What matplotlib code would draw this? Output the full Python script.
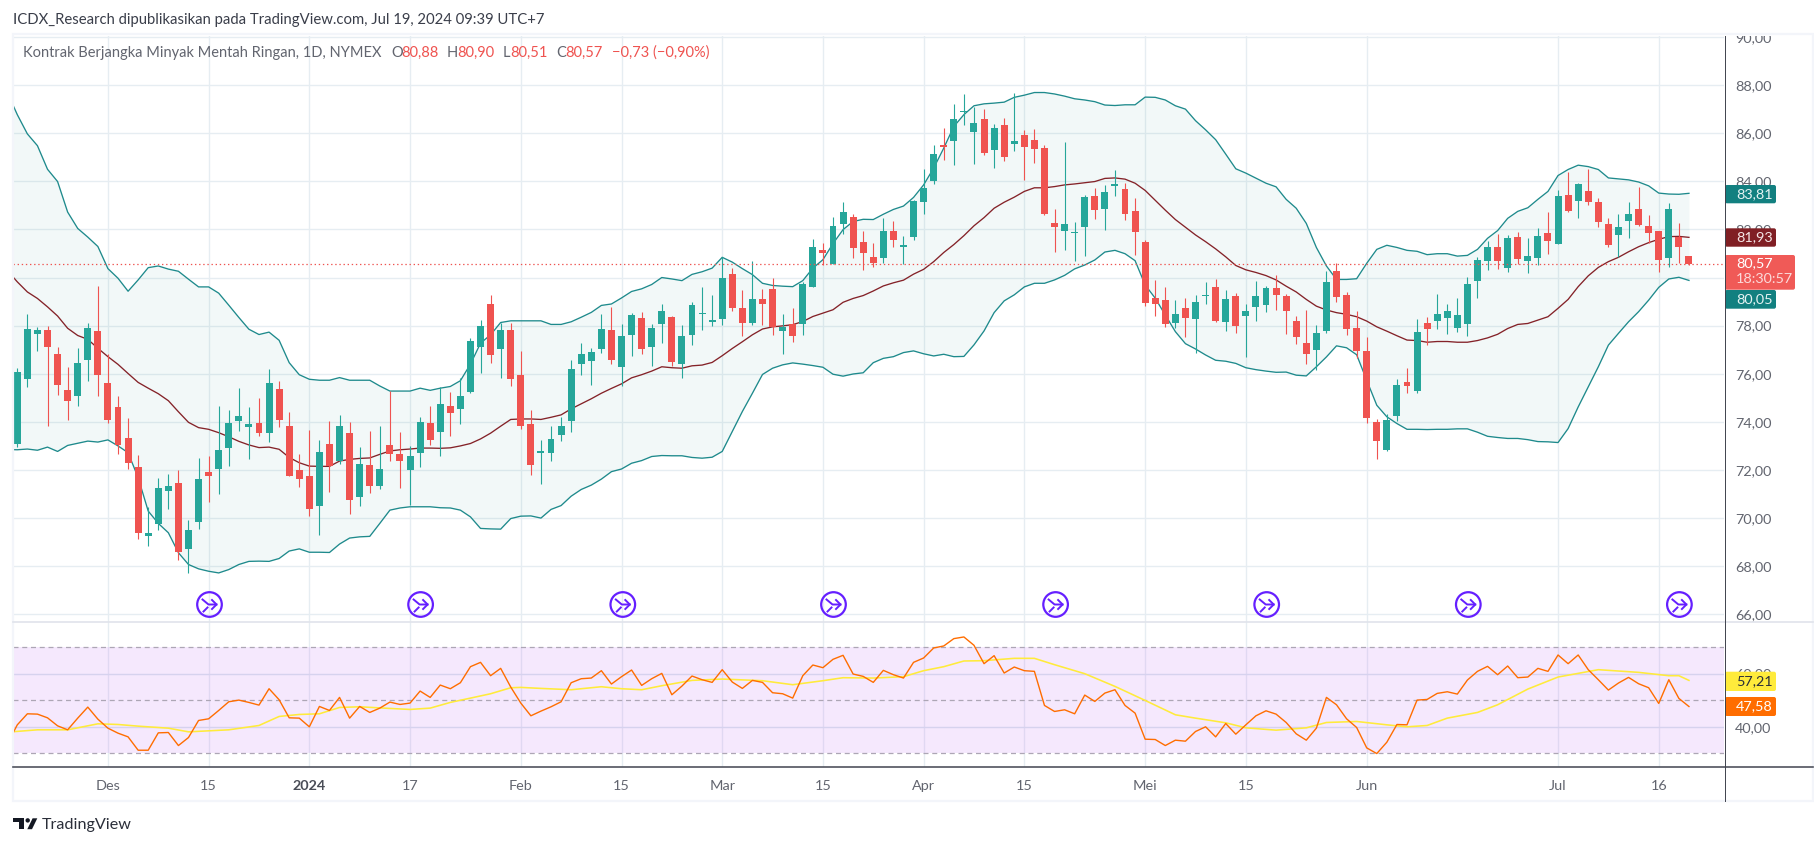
#!/usr/bin/env python3
import matplotlib
matplotlib.use("Agg")
import matplotlib.pyplot as plt
from matplotlib.patches import Circle, FancyBboxPatch, Polygon, Rectangle
from matplotlib.transforms import Bbox

W, H = 1814, 846
plt.rcParams['font.family'] = ['Lato', 'DejaVu Sans']

opens = [73.08,75.78,77.66,77.81,76.81,75.31,75.08,76.57,77.77,75.60,
         74.60,73.31,72.11,69.25,69.75,71.12,71.44,68.71,69.83,71.90,
         72.04,72.91,74.04,73.79,73.94,73.54,75.35,73.81,71.98,71.73,
         70.50,73.07,72.36,73.52,70.87,72.19,71.33,73.02,72.65,72.00,
         72.70,73.94,73.56,74.67,74.55,75.26,77.13,78.91,77.01,77.83,
         75.96,73.92,72.72,72.72,73.47,74.05,76.39,76.55,77.01,77.83,
         76.30,77.59,78.33,77.13,78.05,78.37,76.39,77.59,78.47,78.17,
         78.26,80.16,78.74,78.13,79.12,79.53,77.76,78.08,78.05,79.59,
         81.16,80.55,82.21,82.53,81.48,80.86,80.83,81.94,81.25,81.70,
         83.12,84.03,85.48,85.66,86.87,86.07,86.60,85.32,86.35,85.57,
         85.93,85.73,85.39,82.27,81.95,81.85,82.12,83.40,82.83,83.82,
         83.69,82.77,81.48,79.15,79.07,78.12,78.73,78.29,79.24,79.61,
         78.17,79.23,78.40,78.79,78.87,79.57,79.23,78.19,77.27,77.00,
         77.77,80.27,79.27,77.90,76.94,73.99,72.83,74.25,75.65,75.29,
         78.11,78.20,78.33,77.91,78.08,79.87,80.70,81.27,80.41,81.68,
         80.70,80.82,81.85,81.41,83.43,83.20,83.60,83.14,82.22,81.78,
         82.36,82.85,82.14,81.93,80.82,81.70,80.88]
highs = [76.23,78.47,77.93,77.97,77.10,76.27,77.06,78.10,79.64,76.81,
         75.06,74.15,72.61,70.47,71.65,71.82,71.98,69.90,72.48,72.57,
         74.65,74.48,75.40,74.60,74.98,76.19,75.69,74.40,72.65,73.65,
         73.23,74.02,74.27,73.98,72.94,73.61,73.81,75.27,73.56,72.98,
         74.19,74.65,75.44,75.25,75.83,77.50,78.24,79.28,78.12,78.12,
         76.95,74.50,73.25,73.83,74.21,76.58,77.29,77.08,78.49,78.78,
         78.08,78.54,78.58,78.08,78.91,78.41,78.04,78.99,79.62,79.28,
         80.84,80.41,79.49,80.70,79.53,79.99,78.49,78.74,79.83,81.61,
         81.45,82.53,83.15,82.65,81.94,81.44,82.48,82.35,81.73,83.22,
         84.52,85.52,86.22,87.22,87.64,87.10,87.02,86.39,86.64,87.68,
         86.14,86.18,85.52,82.85,85.64,82.31,83.44,83.73,83.85,84.48,
         83.94,83.31,81.56,79.90,79.61,79.07,79.15,79.28,79.82,79.94,
         79.48,79.36,78.90,79.86,79.65,80.11,79.31,78.40,78.65,78.02,
         80.27,80.60,79.40,78.60,77.52,74.11,74.32,75.78,76.23,78.27,
         78.35,79.31,78.90,79.15,80.02,80.85,81.52,81.81,81.77,81.89,
         81.64,82.06,82.72,83.64,84.39,83.93,84.51,83.31,82.47,82.64,
         83.14,83.76,82.60,81.95,83.10,82.27,80.90]
lows = [72.95,75.45,76.95,73.83,75.12,74.08,74.66,75.70,75.08,73.95,
        72.66,72.04,69.13,68.83,69.50,70.37,68.25,67.71,69.54,70.67,
        71.00,72.16,73.62,72.45,73.41,73.16,73.79,71.75,71.29,70.08,
        69.29,71.08,72.25,70.17,70.50,71.04,71.21,72.37,71.25,70.54,
        72.12,73.04,72.56,73.43,73.93,75.18,76.05,76.43,75.84,75.51,
        73.72,71.81,71.40,72.39,73.22,73.56,75.93,75.55,76.88,76.39,
        75.51,76.72,76.80,76.34,77.26,76.34,75.84,77.18,77.80,77.97,
        78.04,78.59,77.55,78.01,78.04,77.59,76.80,77.34,77.59,79.59,
        80.50,80.55,81.82,80.82,80.33,80.45,80.62,81.25,80.55,81.54,
        82.62,83.87,84.87,84.66,86.35,84.70,85.10,84.56,84.85,85.28,
        84.06,84.77,82.58,81.08,81.16,80.70,80.91,82.45,81.98,83.37,
        82.41,80.95,78.83,78.42,77.96,77.92,77.54,76.88,78.92,78.15,
        77.79,77.71,76.71,78.21,78.58,78.67,77.66,77.25,76.41,76.16,
        77.69,78.99,77.62,76.66,73.96,72.46,72.79,74.04,75.21,75.21,
        77.20,77.86,77.66,77.74,77.58,79.16,80.32,80.37,80.24,80.57,
        80.20,80.53,80.99,81.41,82.74,82.49,83.03,82.11,81.28,80.85,
        81.64,82.16,81.45,80.24,80.45,80.62,80.51]
closes = [76.06,77.85,77.81,77.12,75.53,74.87,76.44,77.89,75.95,74.08,
          73.04,72.29,69.38,69.36,71.23,71.32,68.58,69.49,71.61,71.73,
          72.82,73.94,74.23,73.90,73.54,75.60,74.08,71.75,71.62,70.37,
          72.73,72.15,73.81,70.75,72.23,71.33,72.02,72.66,72.37,72.57,
          73.98,73.25,74.75,74.35,75.08,77.37,77.99,76.76,77.83,75.80,
          73.81,72.22,72.76,73.29,73.83,76.20,76.83,76.91,77.87,76.59,
          77.58,78.45,77.01,77.91,78.62,76.47,77.58,78.87,78.53,78.24,
          79.99,78.72,78.13,79.12,78.92,77.95,77.95,77.55,79.74,81.28,
          81.00,82.16,82.74,81.24,81.04,80.62,81.94,81.58,81.36,83.19,
          83.73,85.14,85.44,86.60,86.92,86.43,85.18,86.22,84.99,85.68,
          85.41,85.36,82.66,82.08,82.23,81.89,83.35,82.79,83.56,83.86,
          82.62,81.91,78.94,78.92,78.08,78.49,78.33,78.98,79.28,78.19,
          79.11,78.00,78.61,79.23,79.57,79.29,78.62,77.54,76.83,77.69,
          79.81,79.20,77.87,76.95,74.17,73.21,74.07,75.53,75.50,77.73,
          77.87,78.48,78.60,78.44,79.73,80.73,81.27,80.70,81.64,80.78,
          80.89,81.73,81.53,83.39,82.78,83.89,83.15,82.32,81.36,82.10,
          82.64,82.20,81.86,80.74,82.85,81.28,80.57]

# bollinger bands, first value is the bar just off the left edge
bb_upper = [87.70,
            86.77,85.97,85.48,84.50,83.99,82.72,82.04,81.68,81.29,80.37,
            79.97,79.43,79.90,80.41,80.48,80.35,80.26,79.93,79.61,79.61,
            79.35,78.85,78.34,77.85,77.63,77.73,77.39,76.46,75.96,75.77,
            75.73,75.73,75.84,75.73,75.73,75.73,75.49,75.28,75.28,75.28,
            75.40,75.31,75.40,75.47,75.71,76.40,77.27,77.62,78.13,78.20,
            78.20,78.20,78.20,78.05,78.05,78.16,78.35,78.55,78.84,78.90,
            79.15,79.42,79.53,79.71,80.00,79.94,79.87,80.13,80.24,80.39,
            80.84,80.64,80.37,80.12,79.76,79.67,79.64,79.62,79.87,80.39,
            80.74,81.41,81.99,82.33,82.42,82.41,82.63,82.83,82.97,83.33,
            83.85,84.55,85.38,86.28,86.77,87.14,87.22,87.25,87.29,87.49,
            87.58,87.69,87.69,87.63,87.54,87.43,87.38,87.31,87.17,87.15,
            87.18,87.18,87.50,87.49,87.38,87.14,87.00,86.52,86.14,85.73,
            85.13,84.52,84.34,84.13,83.92,83.77,83.25,82.88,82.25,81.25,
            80.48,79.92,79.92,79.95,80.59,81.17,81.34,81.25,81.13,81.09,
            80.95,80.99,80.99,80.89,80.92,81.17,81.63,81.95,82.46,82.75,
            82.90,83.25,83.58,84.24,84.49,84.67,84.61,84.49,84.14,84.10,
            84.06,83.97,83.81,83.51,83.47,83.46,83.50]
bb_basis = [80.30,
            79.82,79.40,79.13,78.78,78.40,77.89,77.59,77.43,77.06,76.71,
            76.39,76.01,75.64,75.40,75.17,74.88,74.42,73.98,73.76,73.69,
            73.55,73.38,73.19,73.04,72.93,72.95,72.86,72.52,72.30,72.16,
            72.15,72.15,72.37,72.44,72.48,72.50,72.65,72.79,72.84,72.87,
            72.91,72.91,72.90,72.92,73.00,73.10,73.29,73.53,73.82,74.10,
            74.12,74.12,74.10,74.19,74.29,74.54,74.75,74.96,75.19,75.39,
            75.58,75.83,75.96,76.11,76.29,76.25,76.23,76.33,76.36,76.47,
            76.75,77.05,77.33,77.62,77.86,77.95,77.99,78.04,78.17,78.38,
            78.52,78.66,78.97,79.13,79.25,79.44,79.65,79.78,79.89,80.14,
            80.34,80.66,81.04,81.37,81.74,82.15,82.49,82.88,83.13,83.34,
            83.58,83.73,83.73,83.78,83.85,83.89,83.94,83.99,84.12,84.14,
            84.09,83.92,83.62,83.21,82.80,82.41,82.09,81.77,81.49,81.19,
            80.86,80.50,80.32,80.21,80.08,79.90,79.64,79.40,79.09,78.81,
            78.65,78.54,78.47,78.37,78.19,77.95,77.77,77.58,77.40,77.38,
            77.31,77.34,77.34,77.31,77.31,77.38,77.49,77.64,77.88,78.05,
            78.09,78.23,78.37,78.72,79.09,79.62,80.07,80.42,80.66,80.84,
            81.07,81.28,81.45,81.59,81.70,81.71,81.67]
bb_lower = [72.85,
            72.84,72.87,72.82,72.95,72.77,73.02,73.11,73.20,73.16,73.25,
            73.00,72.72,71.68,70.29,69.78,69.39,68.56,68.07,67.89,67.79,
            67.72,67.86,68.07,68.20,68.21,68.20,68.32,68.63,68.72,68.58,
            68.58,68.57,68.92,69.17,69.22,69.24,69.78,70.33,70.42,70.47,
            70.47,70.47,70.43,70.42,70.33,70.05,69.57,69.55,69.54,69.98,
            70.08,70.09,70.00,70.36,70.52,70.91,71.19,71.37,71.62,71.93,
            72.04,72.28,72.39,72.56,72.60,72.59,72.59,72.52,72.49,72.53,
            72.77,73.60,74.43,75.19,75.97,76.23,76.37,76.45,76.40,76.34,
            76.27,75.98,75.90,75.99,76.04,76.46,76.64,76.71,76.88,76.95,
            76.83,76.74,76.81,76.71,76.72,77.20,77.78,78.54,79.03,79.28,
            79.61,79.76,79.76,79.90,80.09,80.36,80.52,80.73,81.06,81.13,
            80.99,80.70,79.69,79.14,78.44,77.75,77.25,77.03,76.78,76.56,
            76.52,76.43,76.25,76.17,76.11,76.06,76.07,75.94,75.91,76.29,
            76.70,77.16,77.08,76.79,75.73,74.69,74.21,73.93,73.69,73.69,
            73.68,73.69,73.69,73.71,73.71,73.57,73.40,73.35,73.31,73.31,
            73.26,73.18,73.17,73.14,73.72,74.62,75.46,76.29,77.19,77.68,
            78.16,78.58,79.06,79.59,79.94,80.01,79.88]

rsi = [33.40,
       40.69,44.84,44.72,43.33,40.31,38.81,43.21,47.36,42.83,39.43,
       37.55,36.16,31.13,31.13,37.67,37.80,32.89,35.91,42.33,42.96,
       46.10,49.37,50.00,49.12,48.11,54.28,50.13,43.33,43.21,39.94,
       47.61,46.10,51.01,43.21,47.61,45.35,46.98,49.25,48.36,48.87,
       53.40,51.01,55.66,54.28,56.54,62.58,64.21,59.18,61.95,54.91,
       48.87,44.09,45.85,47.48,49.37,56.54,58.05,58.30,61.07,56.04,
       58.81,61.32,55.53,58.05,60.06,52.01,55.28,59.06,57.67,56.67,
       61.45,56.79,54.40,57.42,56.67,52.77,52.39,50.75,59.18,63.21,
       62.20,65.35,66.86,59.81,58.93,56.67,61.19,59.56,58.30,64.21,
       65.85,69.62,70.38,73.14,73.77,70.63,63.71,66.73,60.19,62.45,
       61.07,60.82,47.99,45.72,46.35,44.84,51.89,49.50,52.64,53.90,
       47.99,45.09,35.28,35.16,32.89,34.91,34.53,38.18,39.94,36.16,
       41.19,37.17,40.69,44.09,45.97,44.72,41.57,37.30,34.91,39.43,
       51.01,48.24,42.96,39.69,32.01,29.87,34.15,40.82,40.69,50.00,
       50.25,52.52,53.14,52.26,57.55,60.82,62.70,59.56,62.83,58.43,
       58.68,61.95,60.82,66.98,63.71,66.98,61.45,57.67,53.77,56.42,
       58.55,56.16,54.65,48.74,57.67,50.63,47.58]

rsi_ma_bars = [-1,2,5,6,8,10,12,15,17,19,21,24,26,28,30,32,34,37,39,41,43,45,47,49,50,52,55,
               58,60,62,64,67,70,74,77,80,82,85,88,90,92,94,96,99,101,103,106,109,112,115,
               117,120,122,125,128,130,133,136,138,140,142,145,147,150,153,157,161,164,165,166]
rsi_ma = [37.92,38.81,38.81,39.56,41.07,40.82,40.19,39.43,38.05,38.43,38.81,40.44,43.84,44.59,
          44.84,47.23,47.48,46.86,46.48,46.98,49.12,50.75,52.39,54.65,54.78,54.40,53.90,
          55.03,54.28,53.90,55.41,57.42,57.92,57.30,55.79,57.30,58.43,58.30,58.81,61.07,
          62.58,64.72,64.84,65.72,65.72,63.33,59.94,55.16,49.87,44.47,43.21,41.45,39.56,
          38.68,39.56,41.57,41.95,40.69,39.94,40.44,43.21,45.35,48.24,54.15,58.68,61.45,
          60.44,59.18,59.18,57.42]

time_bars = [9, 19, 29, 39, 50, 60, 70, 80, 90, 100, 112, 122, 134, 153, 163]
time_labels = ['Des', '15', '2024', '17', 'Feb', '15', 'Mar', '15', 'Apr', '15', 'Mei', '15', 'Jun', 'Jul', '16']
price_ticks = [66, 68, 70, 72, 74, 76, 78, 80, 82, 84, 86, 88, 90]
rsi_ticks = [40, 60]
event_x = [209.5, 420.6, 622.8, 833.5, 1055.6, 1266.7, 1468.3, 1679.4]

UP = '#26A69A'
DOWN = '#EF5350'
BAND = '#1E8A8C'
BASIS = '#842228'
GRID = '#E6EDF2'
TEXT = '#62656F'


def comma(v):
    return f"{v:.2f}".replace('.', ',')


bars = list(range(len(closes)))
band_bars = [-1] + bars
colors = [UP if c >= o else DOWN for o, c in zip(opens, closes)]

fig = plt.figure(figsize=(W / 100, H / 100), dpi=100, facecolor='white')

# main pane
ax = fig.add_axes([13 / W, 1 - 622 / H, 1711 / W, 586 / H])
ax.set_xlim(-0.427, 169.48)
ax.set_ylim(65.68, 90.04)
ax.set_xticks(time_bars)
ax.set_yticks(price_ticks)
ax.set_yticklabels([comma(t) for t in price_ticks])
ax.yaxis.tick_right()
ax.tick_params(axis='x', length=0, labelbottom=False)
ax.tick_params(axis='y', length=0, labelsize=10.4, labelcolor=TEXT, pad=8)
ax.grid(True, color=GRID, lw=1.0)
ax.set_axisbelow(True)
for s in ax.spines.values():
    s.set_visible(False)
for lab in ax.get_yticklabels():
    lab.set_clip_on(True)
    lab.set_clip_box(Bbox([[1725, 0], [W, H - 36]]))

ax.fill_between(band_bars, bb_lower, bb_upper, color='#00897B', alpha=0.05, lw=0, zorder=1)
ax.plot(band_bars, bb_upper, color=BAND, lw=0.95, zorder=2)
ax.plot(band_bars, bb_lower, color=BAND, lw=0.95, zorder=2)
ax.plot(band_bars, bb_basis, color=BASIS, lw=0.95, zorder=2)

ax.vlines(bars, lows, highs, colors=colors, lw=0.8, zorder=3)
bottoms = [min(o, c) for o, c in zip(opens, closes)]
heights = [max(abs(c - o), 0.05) for o, c in zip(opens, closes)]
ax.bar(bars, heights, bottom=bottoms, width=0.69, color=colors, lw=0, zorder=4)
ax.axhline(closes[-1], color=DOWN, lw=0.9, ls=(0, (1.1, 2.2)), zorder=5)

# rsi pane
ax2 = fig.add_axes([13 / W, 1 - 767.3 / H, 1711 / W, 145.3 / H])
ax2.set_xlim(-0.427, 169.48)
ax2.set_ylim(24.7, 79.4)
ax2.set_xticks(time_bars)
ax2.set_xticklabels(time_labels)
ax2.set_yticks(rsi_ticks)
ax2.set_yticklabels([comma(t) for t in rsi_ticks])
ax2.yaxis.tick_right()
ax2.tick_params(axis='x', length=0, labelsize=10.4, labelcolor=TEXT, pad=9)
ax2.tick_params(axis='y', length=0, labelsize=10.4, labelcolor=TEXT, pad=8)
ax2.grid(True, axis='x', color=GRID, lw=1.0)
ax2.set_axisbelow(True)
for s in ax2.spines.values():
    s.set_visible(False)
for lab in ax2.get_xticklabels():
    if lab.get_text() == '2024':
        lab.set_fontweight('bold')
        lab.set_color('#4A4D57')

ax2.axhspan(30, 70, color='#BC5FF5', alpha=0.14, lw=0, zorder=1)
for level in [30, 50, 70]:
    ax2.axhline(level, color='#ADA6B5', lw=0.9, ls=(0, (4, 3)), zorder=2)
for level in rsi_ticks:
    ax2.axhline(level, color='#D6D2EE', lw=1.0, zorder=2)
ax2.plot(band_bars, rsi, color='#FF6D00', lw=1.0, zorder=4)
ax2.plot(rsi_ma_bars, rsi_ma, color='#FFEB3B', lw=1.15, zorder=3)

# overlay in pixels: frame, tags, titles, logo
ov = fig.add_axes([0, 0, 1, 1], zorder=10)
ov.set_xlim(0, W)
ov.set_ylim(H, 0)
ov.axis('off')
ov.patch.set_visible(False)

ov.add_patch(Rectangle((12.5, 34.5), W - 14, 767, fill=False, ec='#F3F5FA', lw=1.6))
ov.plot([13, W - 1], [622.3, 622.3], color='#E0E3EB', lw=1.2)
ov.plot([13, W - 1], [767.3, 767.3], color='#50535E', lw=1.2)
ov.plot([1724.5, 1724.5], [36, 801], color='#3F424C', lw=0.7)

ov.text(13, 20, 'ICDX_Research dipublikasikan pada TradingView.com, Jul 19, 2024 09:39 UTC+7',
        fontsize=10.7, color='#3A3E4A', va='center')
ov.text(23, 53, 'Kontrak Berjangka Minyak Mentah Ringan, 1D, NYMEX', fontsize=10.5, color=TEXT, va='center')
for x, s, c in [(391, 'O', TEXT), (401.5, '80,88', DOWN), (447, 'H', TEXT), (457, '80,90', DOWN),
                (503, 'L', TEXT), (510.5, '80,51', DOWN), (556, 'C', TEXT), (565.5, '80,57', DOWN),
                (612, '\u22120,73 (\u22120,90%)', DOWN)]:
    ov.text(x, 53, s, fontsize=10.5, color=c, va='center')


def tag(y0, y1, x1, color):
    ov.add_patch(FancyBboxPatch((1725, y0), x1 - 1725, y1 - y0, boxstyle='round,pad=0,rounding_size=2',
                                fc=color, ec='none'))


tag(185, 203.3, 1776, '#128080')
ov.text(1736, 194, '83,81', color='#E6F3F3', fontsize=10.4, va='center')
tag(228.3, 246.7, 1776, '#801F24')
ov.text(1736, 237.5, '81,93', color='#F6E6E6', fontsize=10.4, va='center')
tag(290, 308.7, 1776, '#128080')
ov.text(1736, 299.5, '80,05', color='#E6F3F3', fontsize=10.4, va='center')
tag(255, 289.7, 1795, '#F05A57')
ov.text(1736, 263.5, '80,57', color='white', fontsize=10.4, va='center')
ov.text(1736, 279, '18:30:57', color='#FBDADA', fontsize=10.4, va='center')
tag(671.7, 691, 1776, '#FFEB3B')
ov.text(1736, 681.5, '57,21', color='#2A2E39', fontsize=10.4, va='center')
tag(697, 716, 1776, '#FF6D00')
ov.text(1736, 706.5, '47,58', color='white', fontsize=10.4, va='center')

# event icons
for x in event_x:
    y = 604.5
    ov.add_patch(Circle((x, y), 12.3, fill=False, ec='#651FFF', lw=1.6))
    ov.plot([x - 7, x - 1, x + 7], [y - 5, y, y], color='#651FFF', lw=1.4)
    ov.plot([x + 2.5, x + 7, x + 2.5], [y - 4.5, y, y + 4.5], color='#651FFF', lw=1.4)
    ov.plot([x - 6, x - 2], [y + 7, y + 3], color='#651FFF', lw=1.4)

# logo
logo = '#131722'
ov.add_patch(Polygon([(13.3, 818.3), (23.7, 818.3), (23.7, 829.2), (18.7, 829.2), (18.7, 822.4), (13.3, 822.4)],
                     fc=logo, ec='none'))
ov.add_patch(Circle((27.7, 820.4), 2.2, fc=logo, ec='none'))
ov.add_patch(Polygon([(32.6, 818.3), (37.3, 818.3), (32, 829.2), (27.3, 829.2)], fc=logo, ec='none'))
ov.text(42, 825, 'TradingView', fontsize=11.6, color='#2A2E39', va='center')

fig.savefig('out.png', dpi=100)
